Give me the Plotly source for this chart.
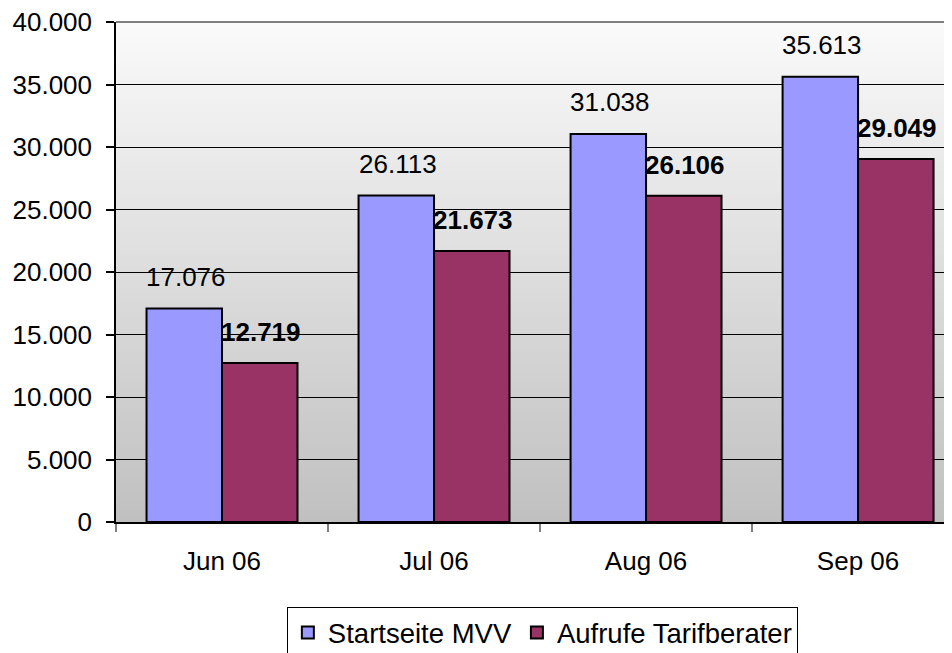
import plotly.graph_objects as go

categories = ["Jun 06", "Jul 06", "Aug 06", "Sep 06"]
startseite = [17076, 26113, 31038, 35613]
tarifberater = [12719, 21673, 26106, 29049]
series_names = ["Startseite MVV", "Aufrufe Tarifberater"]
y_ticks = [0, 5000, 10000, 15000, 20000, 25000, 30000, 35000, 40000]

BLUE = "#9999FF"
RED = "#993366"
FONT = "Liberation Sans, Arial, sans-serif"

def fmt(v):
    return f"{v:,}".replace(",", ".")

fig = go.Figure()
fig.add_trace(go.Bar(x=categories, y=startseite, name=series_names[0],
                     marker=dict(color=BLUE, line=dict(color="black", width=2))))
fig.add_trace(go.Bar(x=categories, y=tarifberater, name=series_names[1],
                     marker=dict(color=RED, line=dict(color="black", width=2))))

# gradient background (below gridlines)
shapes = []
n = 100
for i in range(n):
    t0 = i / n
    t1 = (i + 1) / n
    tm = (t0 + t1) / 2  # 0 bottom, 1 top
    c = int(round(192 + (250 - 192) * tm))
    shapes.append(dict(type="rect", xref="x domain", yref="y domain",
                       x0=0, x1=1, y0=t0, y1=t1 + 0.002, layer="below",
                       line=dict(width=0), fillcolor=f"rgb({c},{c},{c})"))
# top border of plot area
shapes.append(dict(type="line", xref="x domain", yref="y domain",
                   x0=0, x1=1, y0=1, y1=1, layer="above",
                   line=dict(color="#808080", width=2)))

annotations = []
for cat, v in zip(categories, startseite):
    annotations.append(dict(x=cat, y=v, xref="x", yref="y", text=fmt(v),
                            showarrow=False, xshift=-37.75 + 1.5, yshift=32,
                            yanchor="middle", xanchor="center",
                            font=dict(family=FONT, size=26, color="black")))
for cat, v in zip(categories, tarifberater):
    annotations.append(dict(x=cat, y=v, xref="x", yref="y", text=f"<b>{fmt(v)}</b>",
                            showarrow=False, xshift=37.75 + 1.5, yshift=31,
                            yanchor="middle", xanchor="center",
                            font=dict(family=FONT, size=26, color="black")))

fig.update_layout(
    width=944, height=645,
    margin=dict(l=108, r=0, t=14, b=131, autoexpand=False),
    paper_bgcolor="white",
    plot_bgcolor="rgba(0,0,0,0)",
    barmode="group", bargap=0.288, bargroupgap=0,
    separators=",.",
    font=dict(family=FONT, size=26, color="black"),
    shapes=shapes,
    annotations=annotations,
    showlegend=True,
    legend=dict(orientation="h", x=0.51, xanchor="center", y=-0.17, yanchor="top",
                bordercolor="black", borderwidth=1, bgcolor="white",
                font=dict(family=FONT, size=27.5, color="black"),
                itemsizing="constant"),
    xaxis=dict(type="category", range=[-0.5, 3.443], tickson="boundaries",
               ticks="outside", ticklen=8, tickcolor="#808080", tickwidth=1.5,
               showline=True, linecolor="black", linewidth=1.5,
               showgrid=False, ticklabelstandoff=15, ticklabeloverflow="allow",
               tickfont=dict(family=FONT, size=26, color="black")),
    yaxis=dict(range=[0, 40000], tickvals=y_ticks, tickformat=",d",
               ticks="outside", ticklen=8, tickcolor="black", tickwidth=1.5,
               showline=True, linecolor="black", linewidth=1.5,
               showgrid=True, gridcolor="black", gridwidth=1,
               zeroline=False, ticklabelstandoff=9, ticklabeloverflow="allow",
               tickfont=dict(family=FONT, size=26, color="black")),
)

fig.write_html("out.html")
